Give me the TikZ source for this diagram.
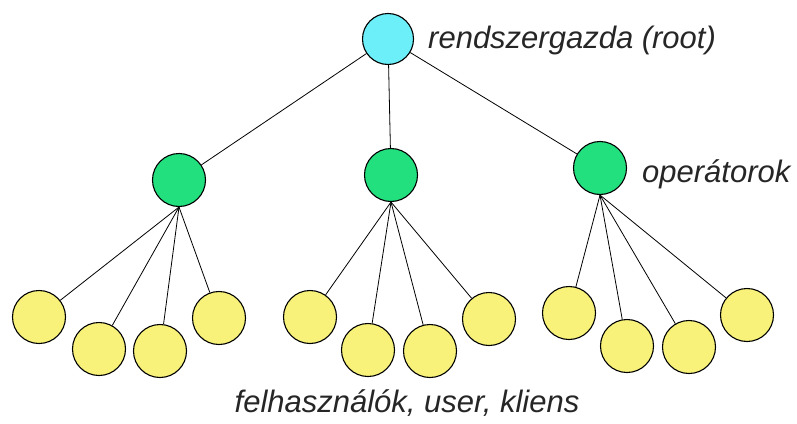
\documentclass[tikz,border=0pt]{standalone}
\usepackage{fontspec}
\setmainfont{Liberation Sans}
\begin{document}
\begin{tikzpicture}[x=1pt,y=-1pt,
  nd/.style={circle,draw=black,line width=1.1pt,inner sep=0pt,minimum size=53pt},
  rootnd/.style={nd,fill=rootcol},
  opnd/.style={nd,fill=opcol},
  usnd/.style={nd,fill=uscol},
  edge/.style={draw=black,line width=0.8pt},
  lbl/.style={font=\fontsize{31}{31}\selectfont\itshape,text=black!85,inner sep=0pt}]
\definecolor{rootcol}{HTML}{6CEFF8}
\definecolor{opcol}{HTML}{22E07E}
\definecolor{uscol}{HTML}{F8F27A}
\useasboundingbox[fill=white] (0,0) rectangle (797,423);
% root
\node[rootnd,minimum size=51pt] (r) at (388,39) {};
% operators
\node[opnd] (o1) at (179,180) {};
\node[opnd] (o2) at (391,175) {};
\node[opnd] (o3) at (600,168) {};
% users
\node[usnd] (u1) at (39,317) {};
\node[usnd] (u2) at (99,349) {};
\node[usnd] (u3) at (160,351) {};
\node[usnd] (u4) at (219,318) {};
\node[usnd] (u5) at (310,317) {};
\node[usnd] (u6) at (368,350) {};
\node[usnd] (u7) at (430,351) {};
\node[usnd] (u8) at (489,319) {};
\node[usnd] (u9) at (569,313) {};
\node[usnd] (u10) at (627,346) {};
\node[usnd] (u11) at (689,347) {};
\node[usnd] (u12) at (747,315) {};
% edges
\draw[edge] (r) -- (o1);
\draw[edge] (r) -- (o2);
\draw[edge] (r) -- (o3);
\foreach \u in {u1,u2,u3,u4} \draw[edge] (o1.south) -- (\u);
\foreach \u in {u5,u6,u7,u8} \draw[edge] (o2.south) -- (\u);
\foreach \u in {u9,u10,u11,u12} \draw[edge] (o3.south) -- (\u);
% labels
\node[lbl,anchor=base west] (lr) at (428,48) {rendszergazda (root)};
\node[lbl,anchor=base west] (lo) at (642,182) {operátorok};
\node[lbl,anchor=base] (lu) at (407,412) {felhasználók, user, kliens};
\end{tikzpicture}
\end{document}
